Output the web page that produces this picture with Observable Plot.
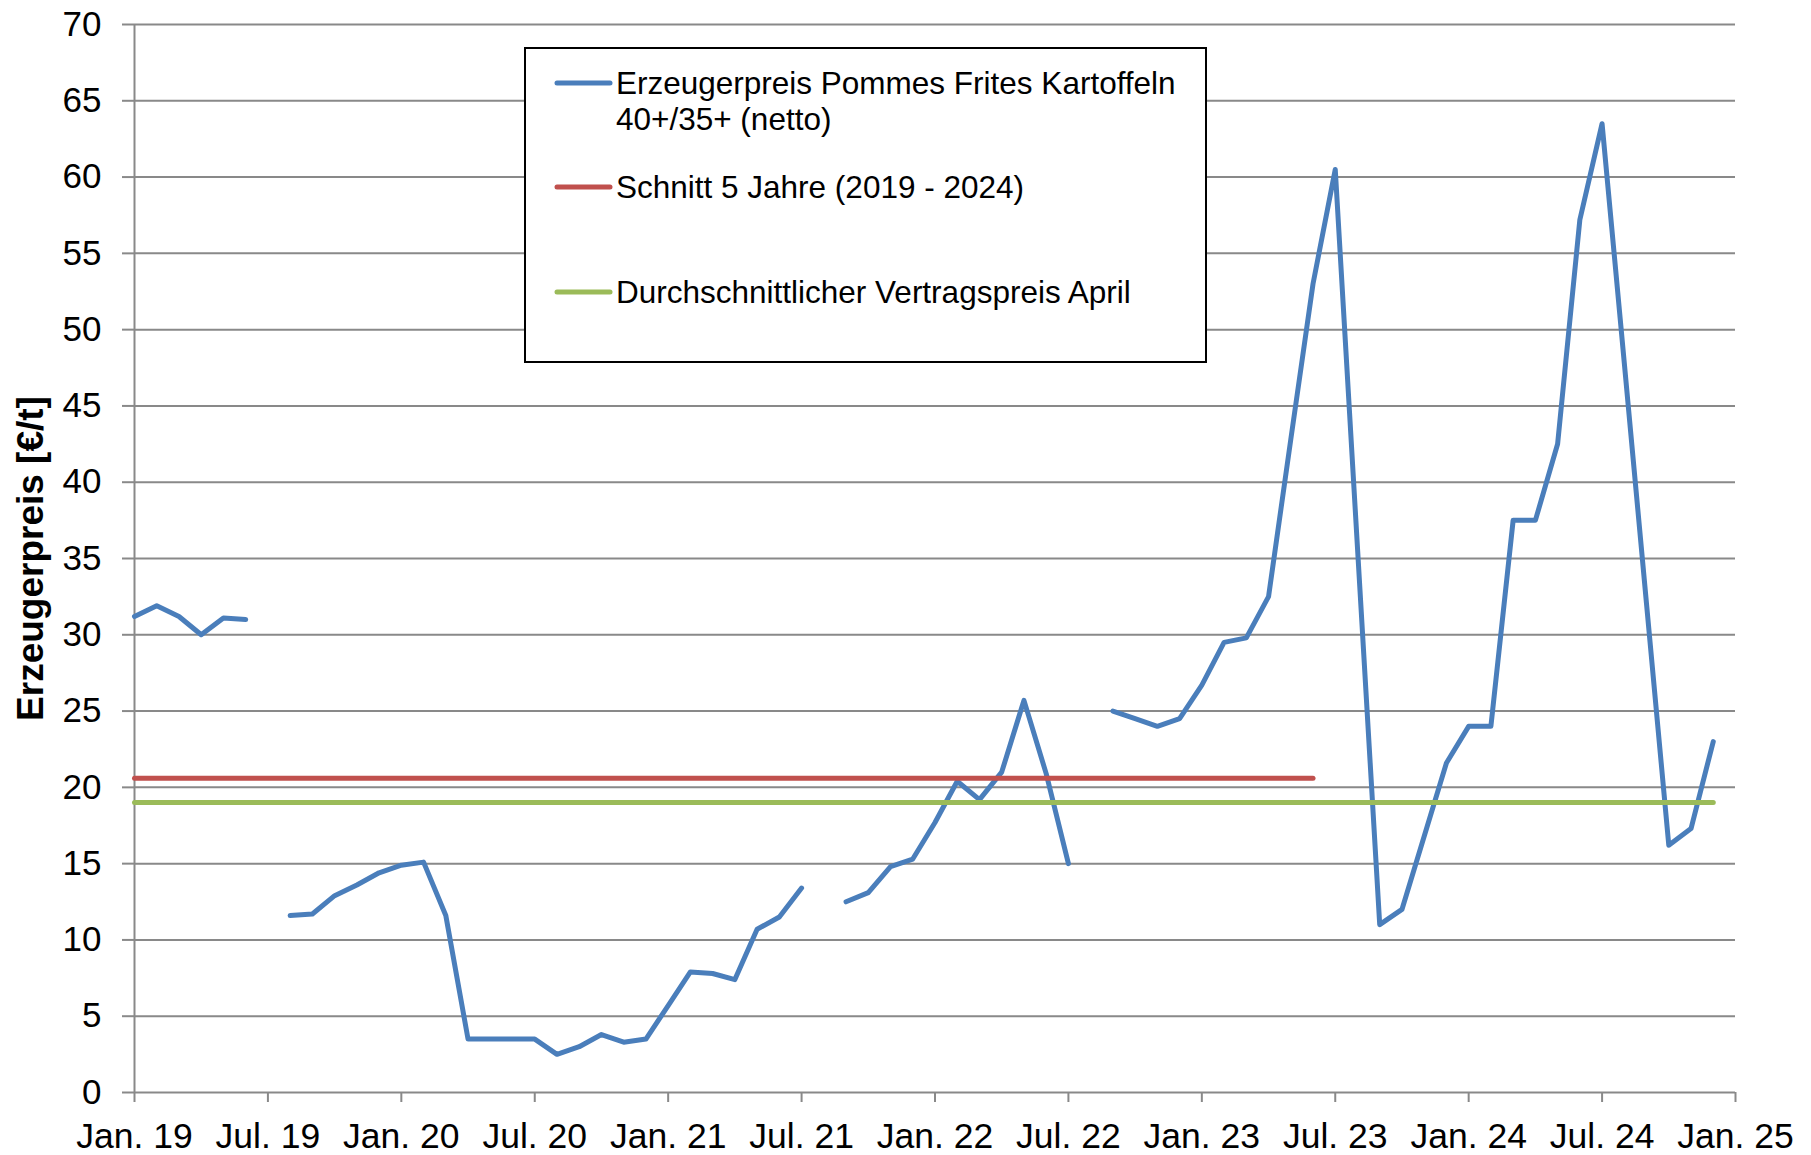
<!DOCTYPE html>
<html>
<head>
<meta charset="utf-8">
<script src="https://cdn.jsdelivr.net/npm/d3@7"></script>
<script src="https://cdn.jsdelivr.net/npm/@observablehq/plot@0.6"></script>
<style>
  html, body { margin: 0; padding: 0; background: #fff; }
  #chart svg { display: block; }
</style>
</head>
<body>
<div id="chart"></div>
<script>
// Monthly values Jan 2019 … Dec 2024 (index 0 = Jan. 19); null = no quotation
const price = [
  31.2, 31.9, 31.2, 30.0, 31.1, 31.0, null, 11.6, 11.7, 12.9, 13.6, 14.4,
  14.9, 15.1, 11.6, 3.5, 3.5, 3.5, 3.5, 2.5, 3.0, 3.8, 3.3, 3.5,
  5.7, 7.9, 7.8, 7.4, 10.7, 11.5, 13.4, null, 12.5, 13.1, 14.8, 15.3,
  17.7, 20.4, 19.2, 21.0, 25.7, 20.9, 15.0, null, 25.0, 24.5, 24.0, 24.5,
  26.7, 29.5, 29.8, 32.5, 42.8, 53.0, 60.5, 35.7, 11.0, 12.0, 16.8, 21.6,
  24.0, 24.0, 37.5, 37.5, 42.5, 57.2, 63.5, 47.8, 32.0, 16.2, 17.3, 23.0
];
const avg5Value = 20.6;      // Schnitt 5 Jahre (2019 - 2024)
const avg5Months = [0, 53];  // drawn from Jan. 19 to Jun. 23
const contractValue = 19.0;  // Durchschnittlicher Vertragspreis April
const contractMonths = [0, 71];
const tickLabels = ["Jan. 19","Jul. 19","Jan. 20","Jul. 20","Jan. 21","Jul. 21","Jan. 22",
                    "Jul. 22","Jan. 23","Jul. 23","Jan. 24","Jul. 24","Jan. 25"];
const yTicks = [0,5,10,15,20,25,30,35,40,45,50,55,60,65,70];
const seriesNames = ["Erzeugerpreis Pommes Frites Kartoffeln", "40+/35+ (netto)",
                     "Schnitt 5 Jahre (2019 - 2024)", "Durchschnittlicher Vertragspreis April"];
const yTitle = "Erzeugerpreis [€/t]";
const colors = {blue: "#4A7EBB", red: "#C0504D", green: "#9BBB59", grid: "#898989"};

const priceData = price.map((v, i) => ({m: i, v}));
const avgData = avg5Months.map(m => ({m, v: avg5Value}));
const contractData = contractMonths.map(m => ({m, v: contractValue}));
const tickPos = tickLabels.map((_, i) => i * 6);

const FONT = "'Liberation Sans', Arial, sans-serif";
const W = 1811, H = 1155;

const chart = Plot.plot({
  width: W, height: H,
  marginLeft: 134, marginRight: 76, marginTop: 24, marginBottom: 63,
  style: {fontFamily: FONT, fontSize: "35px", color: "black", background: "white", overflow: "visible"},
  x: {domain: [0, 72], label: null},
  y: {domain: [0, 70], label: null},
  marks: [
    Plot.ruleY(yTicks.filter(d => d > 0), {stroke: colors.grid, strokeWidth: 2}),
    Plot.axisY({ticks: yTicks, tickSize: 12, tickPadding: 21, stroke: colors.grid, strokeWidth: 2, fill: "black", fontSize: 35}),
    Plot.axisX({ticks: tickPos, tickFormat: d => tickLabels[d / 6], tickSize: 10, tickPadding: 20,
                stroke: colors.grid, strokeWidth: 2, fill: "black", fontSize: 35.5}),
    Plot.ruleX([0], {stroke: colors.grid, strokeWidth: 2}),
    Plot.ruleY([0], {stroke: colors.grid, strokeWidth: 2}),
    Plot.line(priceData, {x: "m", y: "v", stroke: colors.blue, strokeWidth: 5,
                          strokeLinejoin: "round", strokeLinecap: "round"}),
    Plot.line(avgData, {x: "m", y: "v", stroke: colors.red, strokeWidth: 5, strokeLinecap: "round"}),
    Plot.line(contractData, {x: "m", y: "v", stroke: colors.green, strokeWidth: 5, strokeLinecap: "round"}),
    Plot.text([yTitle], {frameAnchor: "left", rotate: -90, dx: -92, lineAnchor: "bottom",
                         textAnchor: "middle", fontWeight: "bold", fontSize: 37, fill: "black"})
  ]
});

document.getElementById("chart").appendChild(chart);

// Legend box (inside the plot area, as in the original)
const svg = d3.select(chart);
const lg = svg.append("g").attr("font-family", FONT).attr("font-size", 31.5)
  .attr("text-anchor", "start");
lg.append("rect").attr("x", 525).attr("y", 48).attr("width", 681).attr("height", 314)
  .attr("fill", "white").attr("stroke", "black").attr("stroke-width", 2);
const items = [
  {color: colors.blue, y: 83, lines: [seriesNames[0], seriesNames[1]]},
  {color: colors.red, y: 187, lines: [seriesNames[2]]},
  {color: colors.green, y: 292, lines: [seriesNames[3]]}
];
items.forEach(it => {
  lg.append("line").attr("x1", 557).attr("x2", 610).attr("y1", it.y).attr("y2", it.y)
    .attr("stroke", it.color).attr("stroke-width", 5).attr("stroke-linecap", "round");
  it.lines.forEach((t, k) => {
    lg.append("text").attr("x", 616).attr("y", it.y + k * 36).attr("dy", "0.35em")
      .attr("text-anchor", "start").attr("fill", "black").text(t);
  });
});
</script>
</body>
</html>
